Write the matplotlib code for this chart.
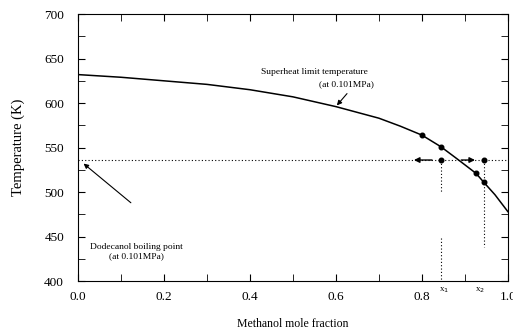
import numpy as np
import matplotlib
matplotlib.use('Agg')
import matplotlib.pyplot as plt
from matplotlib.ticker import MultipleLocator

plt.rcParams['font.family'] = ['Liberation Serif', 'DejaVu Serif']

# superheat limit curve (methanol mole fraction vs temperature)
x_curve = [0.0, 0.1, 0.2, 0.3, 0.4, 0.5, 0.6, 0.7, 0.75, 0.8, 0.844, 0.88, 0.926, 0.944, 0.97, 1.0]
t_curve = [632, 629, 625, 621, 615, 607, 596, 583, 574, 564, 551, 538, 521, 511, 497, 478]

# marked points on the curve
x_dots = [0.80, 0.844, 0.926, 0.944]
t_dots = [564, 551, 521, 511]

# dodecanol boiling point level and points on it
t_boil = 536
x_boil_dots = [0.844, 0.944]

fig = plt.figure(figsize=(5.13, 3.35), dpi=100)
ax = fig.add_axes([0.152, 0.161, 0.838, 0.797])

ax.plot(x_curve, t_curve, color='black', lw=1.1)
ax.plot(x_dots, t_dots, 'o', color='black', ms=3.3)
ax.plot(x_boil_dots, [t_boil] * 2, 'o', color='black', ms=3.3)

# horizontal dotted line at boiling point
ax.plot([0.0, 1.0], [t_boil, t_boil], color='black', lw=0.8, ls=(0, (1, 2)))

# vertical dotted drop lines
ax.plot([0.844, 0.844], [t_boil, 499], color='black', lw=0.8, ls=(0, (1, 2)))
ax.plot([0.844, 0.844], [448, 400], color='black', lw=0.8, ls=(0, (1, 2)))
ax.plot([0.944, 0.944], [t_boil, 438], color='black', lw=0.8, ls=(0, (1, 2)))

# arrows along boiling line
ax.annotate('', xy=(0.775, t_boil), xytext=(0.83, t_boil),
            arrowprops=dict(arrowstyle='-|>', color='black', lw=1.0, mutation_scale=8))
ax.annotate('', xy=(0.93, t_boil), xytext=(0.885, t_boil),
            arrowprops=dict(arrowstyle='-|>', color='black', lw=1.0, mutation_scale=8))

# annotations
ax.text(0.55, 635, 'Superheat limit temperature', ha='center', va='center', fontsize=6.8)
ax.text(0.625, 621, '(at 0.101MPa)', ha='center', va='center', fontsize=6.8)
ax.annotate('', xy=(0.598, 595), xytext=(0.63, 613),
            arrowprops=dict(arrowstyle='-|>', color='black', lw=0.8, mutation_scale=7))
ax.text(0.137, 433, 'Dodecanol boiling point\n(at 0.101MPa)', ha='center', va='center',
        fontsize=6.8, linespacing=1.2)
ax.annotate('', xy=(0.008, 534), xytext=(0.128, 486),
            arrowprops=dict(arrowstyle='-|>', color='black', lw=0.8, mutation_scale=7))

ax.set_xlim(0, 1.0)
ax.set_ylim(400, 700)
ax.set_xticks([0.0, 0.2, 0.4, 0.6, 0.8, 1.0])
ax.set_xticklabels(['0.0', '0.2', '0.4', '0.6', '0.8', '1.0'])
ax.xaxis.set_minor_locator(MultipleLocator(0.1))
ax.yaxis.set_major_locator(MultipleLocator(50))
ax.yaxis.set_minor_locator(MultipleLocator(25))
ax.tick_params(which='both', direction='in', top=True, right=True, labelsize=9.5)
ax.tick_params(which='both', length=5)
ax.tick_params(axis='y', pad=10)
ax.tick_params(axis='x', pad=7)

ax.text(0.852, -0.015, 'x$_1$', transform=ax.get_xaxis_transform(), fontsize=6.5, ha='center', va='top')
ax.text(0.936, -0.015, 'x$_2$', transform=ax.get_xaxis_transform(), fontsize=6.5, ha='center', va='top')

ax.set_xlabel('Methanol mole fraction', fontsize=8.5, labelpad=11)
ax.set_ylabel('Temperature (K)', fontsize=10.5, labelpad=14)

fig.savefig('out.png', dpi=100)
